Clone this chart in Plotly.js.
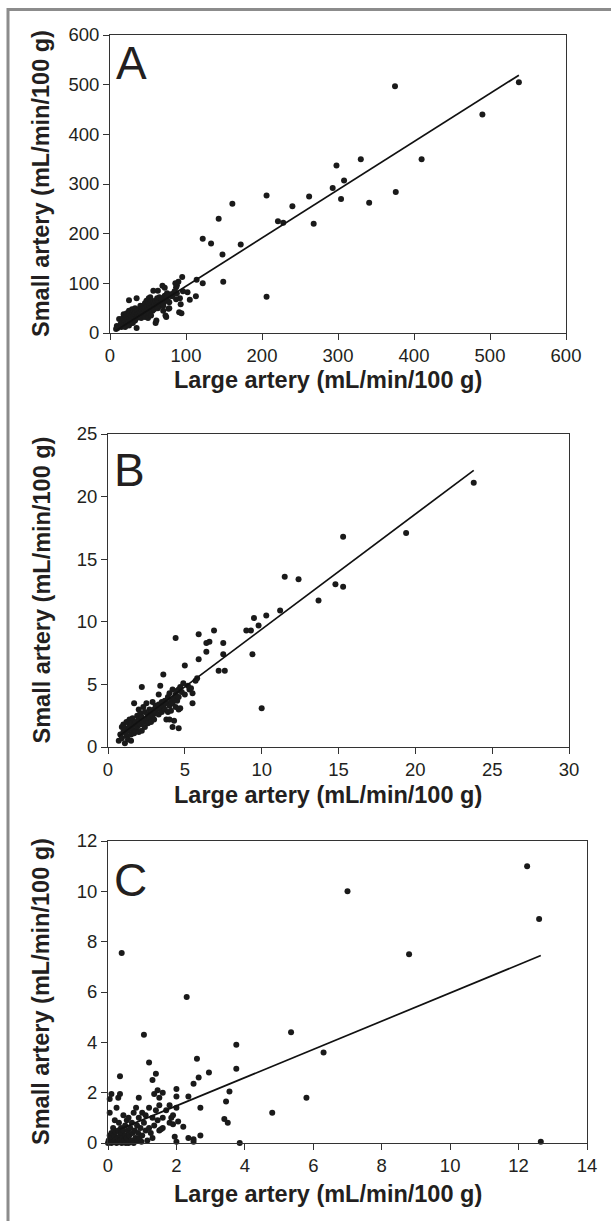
<!DOCTYPE html>
<html>
<head>
<meta charset="utf-8">
<script src="https://cdn.plot.ly/plotly-3.0.1.min.js"></script>
<style>html,body{margin:0;padding:0;background:#fff;}#chart{width:611px;height:1221px;}</style>
</head>
<body>
<div id="chart"></div>
<script>
// Panel A: large vs small artery (mL/min/100 g)
const aX = [8,9,10,12,14,15,16,17,18,18,19,20,20,21,22,22,23,24,24,25,25,25,26,26,27,27,28,28,29,29,30,30,31,31,32,32,33,33,34,34,35,35,35,36,36,37,38,38,39,40,40,41,41,42,43,43,44,45,45,46,46,47,47,48,48,49,49,50,50,51,51,52,52,53,53,54,54,55,55,56,56,57,57,58,58,59,60,60,61,61,62,62,63,63,64,65,65,66,67,68,69,70,70,71,72,73,74,75,76,78,80,82,84,85,87,88,
  538,375,490,410,330,298,308,293,304,376,341,262,240,206,161,143,221,228,268,122,133,172,148,149,122,206,113,114,105,102,95,96,90,86,88,93,92,91,94,87,80,75,78,77,72,74,70,63];
const aY = [8,14,10,28,18,12,22,30,15,38,20,25,12,32,18,40,28,22,35,15,45,66,30,38,20,42,25,35,48,30,20,40,33,45,28,38,50,25,35,42,70,10,30,45,38,32,40,48,35,42,55,30,38,45,50,35,40,48,55,32,60,42,50,65,38,45,55,62,30,48,70,55,40,60,72,50,35,58,65,45,52,85,62,55,48,60,65,20,55,25,60,70,58,50,65,62,72,55,60,68,95,70,45,62,75,35,72,80,65,50,78,74,80,84,92,96,
  505,497,440,350,350,337,307,292,270,284,262,275,255,277,260,230,225,222,220,190,180,178,158,103,100,73,74,107,67,82,113,84,103,100,80,58,70,42,40,68,75,75,62,49,91,32,55,85];
const aLineX = [8, 538];
const aLineY = [5, 519];

// Panel B
const bX = [0.7,0.8,0.9,0.9,1.0,1.0,1.1,1.1,1.2,1.2,1.3,1.3,1.4,1.4,1.5,1.5,1.5,1.6,1.6,1.7,1.7,1.7,1.8,1.8,1.9,1.9,2.0,2.0,2.0,2.1,2.1,2.2,2.2,2.3,2.3,2.4,2.4,2.5,2.5,2.6,2.6,2.7,2.7,2.8,2.8,2.9,2.9,3.0,3.0,3.1,3.1,3.2,3.3,3.3,3.4,3.5,3.5,3.6,3.7,3.7,3.8,3.9,3.9,4.0,4.0,4.1,4.1,4.2,4.2,4.3,4.4,4.4,4.5,4.5,4.6,4.7,4.7,4.8,5.0,5.2,5.3,5.4,
  23.8,19.4,15.3,14.8,15.3,13.7,11.5,12.4,11.2,10.3,9.5,9.8,9.0,9.3,9.4,10.0,6.9,5.9,6.6,6.4,7.5,6.4,7.5,5.9,7.2,7.6,4.4,5.0,5.8,5.7,5.5,5.5,4.9,4.6,4.6,4.6,4.2,4.3,3.6,3.4,3.3,2.2,3.8,4.0];
const bY = [0.5,1.0,1.6,0.7,1.8,1.2,0.3,1.5,0.9,2.0,1.3,0.6,1.7,2.2,1.0,0.5,1.9,1.4,2.3,1.1,3.5,1.8,2.0,1.3,2.5,1.6,1.2,2.2,3.0,1.8,2.7,1.3,2.4,2.0,3.2,1.6,2.8,2.2,3.5,1.9,2.6,3.0,2.3,2.0,2.8,3.6,2.5,3.0,2.2,2.7,3.3,3.1,2.6,3.4,3.0,3.6,2.8,3.3,3.7,3.0,3.5,2.8,4.0,3.3,4.3,3.7,2.9,4.6,3.5,3.9,4.2,3.2,4.5,3.7,4.0,3.1,4.8,4.4,4.2,4.9,4.6,4.7,
  21.1,17.1,16.8,13.0,12.8,11.7,13.6,13.4,10.9,10.5,10.3,9.7,9.3,9.3,7.4,3.1,9.3,9.0,8.4,8.3,8.3,7.6,7.4,7.0,6.1,6.1,8.7,6.5,5.5,5.3,4.3,3.5,5.1,4.6,3.0,1.5,1.6,2.1,5.8,4.9,4.2,4.8,2.2,2.2];
const bLineX = [0.7, 23.8];
const bLineY = [0.85, 22.1];

// Panel C
const cX = [0,0.02,0.05,0.05,0.08,0.1,0.1,0.12,0.15,0.15,0.18,0.2,0.2,0.22,0.25,0.25,0.28,0.3,0.3,0.32,0.35,0.35,0.38,0.4,0.4,0.42,0.45,0.45,0.48,0.5,0.5,0.52,0.55,0.55,0.58,0.6,0.6,0.62,0.65,0.68,0.7,0.72,0.75,0.75,0.78,0.8,0.82,0.85,0.85,0.88,0.9,0.92,0.95,0.98,1.0,1.0,1.05,1.1,1.1,1.15,1.2,1.2,1.25,1.3,1.3,1.35,1.4,1.45,1.5,1.5,1.6,1.6,1.7,1.8,1.85,
  12.25,12.6,7.0,8.8,0.4,2.3,5.35,6.3,1.05,3.75,2.6,1.2,3.75,2.95,1.4,0.35,2.65,1.3,2.5,5.8,3.55,4.8,3.45,3.4,3.5,2.35,2.7,2.0,2.0,1.6,1.45,1.5,1.35,0.9,0.05,0.1,0.3,0.35,12.65,3.85,2.7,2.5,2.5,2.35,2.0,1.95,2.2,2.05,1.9,1.9,2.0,1.8,1.55];
const cY = [0,0.1,0.3,1.2,0.05,0.4,0.0,0.2,0.6,0.05,0.3,0.1,0.9,0.45,0.0,1.4,0.2,0.5,0.05,0.8,0.3,0.1,0.6,0.0,0.4,0.2,1.1,0.5,0.1,0.7,0.3,0.0,0.9,0.2,0.5,0.0,1.0,0.3,0.6,0.1,0.8,0.4,1.2,0.0,0.5,0.2,1.4,0.7,0.1,0.4,1.0,0.2,0.6,0.05,1.2,0.3,0.8,0.5,1.1,0.1,1.4,0.6,0.4,1.0,0.2,0.7,1.3,0.9,0.5,1.5,1.0,0.6,1.3,0.8,1.0,
  11.0,8.9,10.0,7.5,7.55,5.8,4.4,3.6,4.3,3.9,3.35,3.2,2.95,2.8,2.75,2.65,2.6,2.5,2.35,1.8,2.05,1.2,1.65,0.95,0.8,1.85,1.4,2.15,1.85,2.0,2.1,1.8,1.95,1.8,1.75,1.95,1.8,1.95,0.05,0.0,0.3,0.15,0.05,0.2,0.05,0.25,0.65,0.85,0.75,1.1,1.4,1.5,0.55];
const cLineX = [0.35, 12.65];
const cLineY = [0.55, 7.45];

const xTitle = "Large artery (mL/min/100 g)";
const yTitle = "Small artery (mL/min/100 g)";
const panelLetters = ["A", "B", "C"];

const W = 611, H = 1221;
// plot boxes in pixels [left, right, top, bottom], x-title offset, letter offset
const boxes = [[110,566,35,333],[108,569,434,747],[108,587,841,1143]];
const titleOff = [47, 48, 51];
const letterOff = [0, 8, 11];
const ranges = [[[0,600],[0,600],100],[[0,30],[0,25],5],[[0,14],[0,12],2]];

const mk = {color:'#1a1a1a', size:6};
const traces = [
  {x:aX, y:aY, xaxis:'x', yaxis:'y', mode:'markers', type:'scatter', marker:mk, cliponaxis:false},
  {x:aLineX, y:aLineY, xaxis:'x', yaxis:'y', mode:'lines', type:'scatter', line:{color:'#111', width:1.7}},
  {x:bX, y:bY, xaxis:'x2', yaxis:'y2', mode:'markers', type:'scatter', marker:mk, cliponaxis:false},
  {x:bLineX, y:bLineY, xaxis:'x2', yaxis:'y2', mode:'lines', type:'scatter', line:{color:'#111', width:1.7}},
  {x:cX, y:cY, xaxis:'x3', yaxis:'y3', mode:'markers', type:'scatter', marker:mk, cliponaxis:false},
  {x:cLineX, y:cLineY, xaxis:'x3', yaxis:'y3', mode:'lines', type:'scatter', line:{color:'#111', width:1.7}}
];

const tickFont = {family:'"Liberation Sans", Arial, sans-serif', size:18.5, color:'#231f20'};
const titleFont = {family:'"Liberation Sans", Arial, sans-serif', size:23.5, color:'#231f20', weight:'bold'};

const layout = {
  width:W, height:H, margin:{l:0,r:0,t:0,b:0},
  paper_bgcolor:'#fff', plot_bgcolor:'#fff', showlegend:false,
  annotations:[], shapes:[
    {type:'line', xref:'paper', yref:'paper', x0:8/W, x1:1, y0:1-9.5/H, y1:1-9.5/H, line:{color:'#8c8c8c', width:3}},
    {type:'line', xref:'paper', yref:'paper', x0:8/W, x1:8/W, y0:1-8/H, y1:0, line:{color:'#8c8c8c', width:3}}
  ]
};

boxes.forEach((b, i) => {
  const s = i === 0 ? '' : String(i+1);
  const r = ranges[i];
  const common = {showgrid:false, zeroline:false, showline:true, linecolor:'#333', linewidth:1,
    mirror:true, ticks:'outside', ticklen:6, tickwidth:1, tickcolor:'#333', tickfont:tickFont, fixedrange:true};
  layout['xaxis'+s] = Object.assign({}, common, {domain:[b[0]/W, b[1]/W], range:r[0], dtick:r[2], tick0:0,
    anchor:'y'+s});
  layout['yaxis'+s] = Object.assign({}, common, {domain:[1-b[3]/H, 1-b[2]/H], range:r[1], dtick:r[2], tick0:0,
    anchor:'x'+s});
  layout.annotations.push({text:xTitle, xref:'paper', yref:'paper', x:328/W, y:1-(b[3]+titleOff[i])/H,
    xanchor:'center', yanchor:'middle', showarrow:false, font:titleFont});
  layout.annotations.push({text:yTitle, xref:'paper', yref:'paper', x:41/W, y:1-((b[2]+b[3])/2)/H,
    xanchor:'center', yanchor:'middle', textangle:-90, showarrow:false, font:titleFont});
  layout.annotations.push({text:panelLetters[i], xref:'paper', yref:'paper', x:(b[0]+4)/W, y:1-(b[2]+letterOff[i])/H,
    xanchor:'left', yanchor:'top', showarrow:false,
    font:{family:'"Liberation Sans", Arial, sans-serif', size:46, color:'#231f20'}});
});

Plotly.newPlot('chart', traces, layout, {staticPlot:true, displayModeBar:false});
</script>
</body>
</html>
